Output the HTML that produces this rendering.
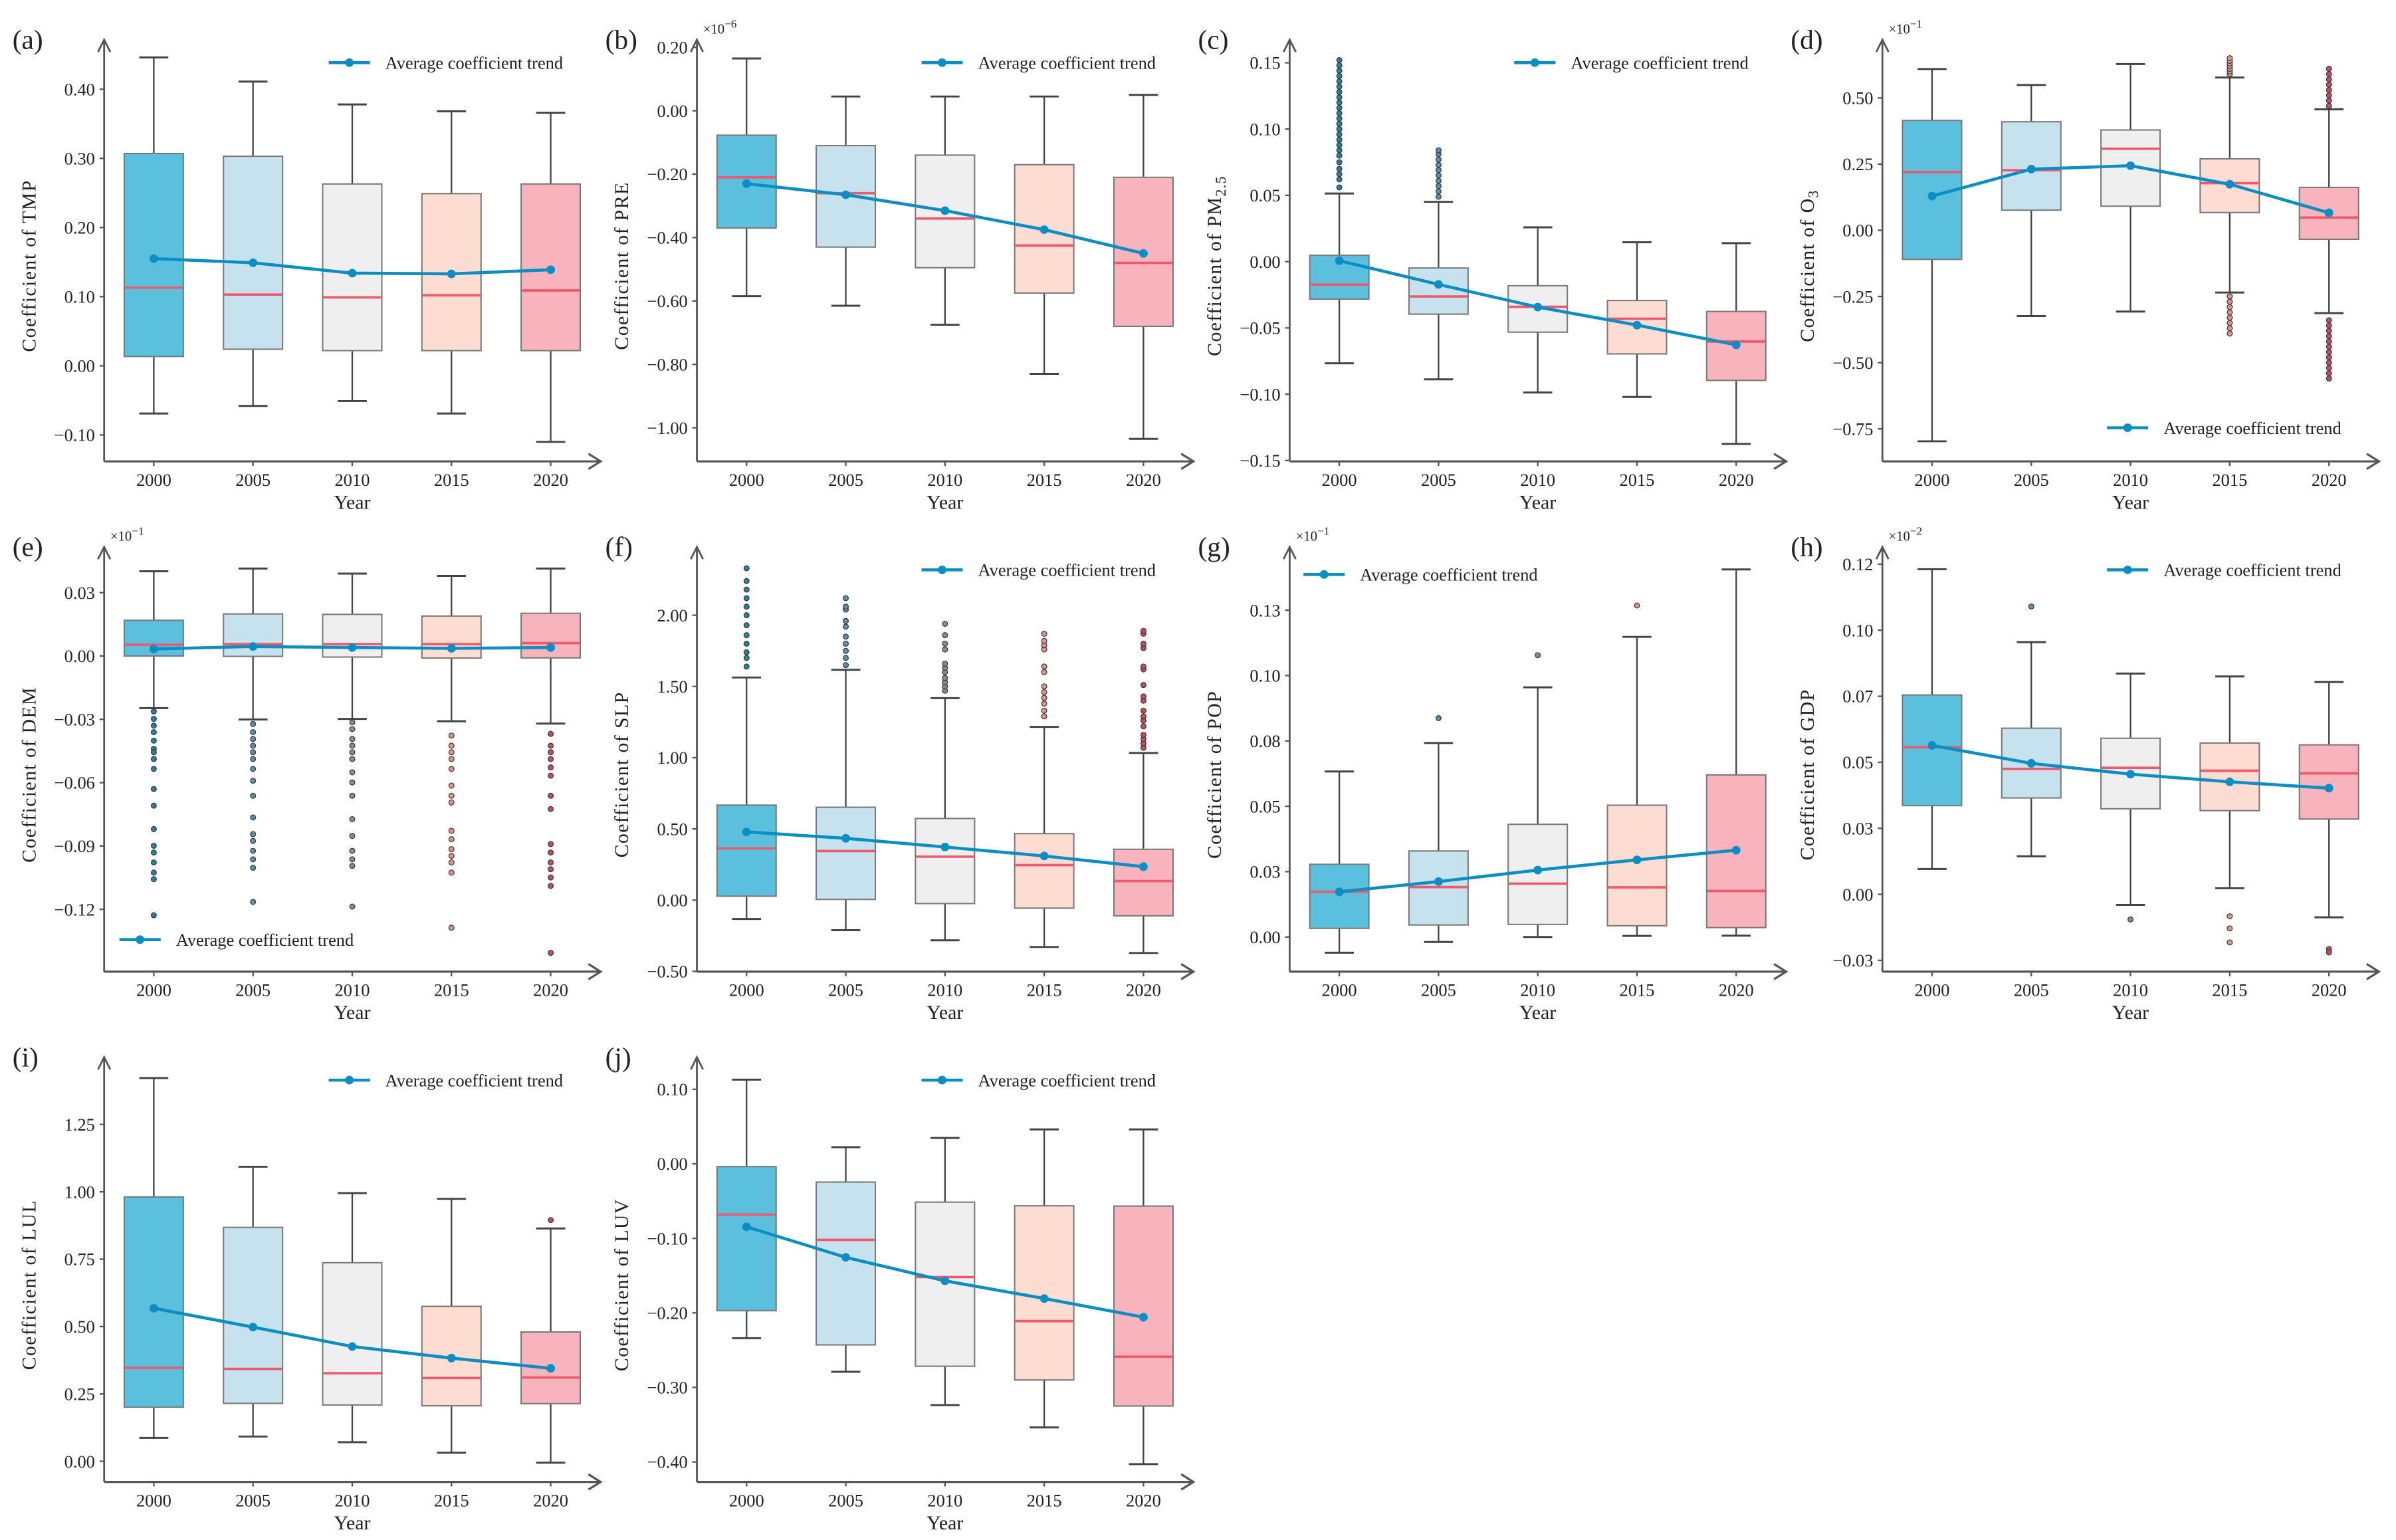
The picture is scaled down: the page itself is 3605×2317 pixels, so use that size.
<!DOCTYPE html>
<html><head><meta charset="utf-8">
<style>
html,body{margin:0;padding:0;background:#fff;}
svg{display:block;}
text{font-family:"Liberation Serif","DejaVu Serif",serif;fill:#222;}
</style></head>
<body>
<svg id="fig" xmlns="http://www.w3.org/2000/svg" width="3605" height="2317" viewBox="0 0 1568 1008">
<rect x="0" y="0" width="1568" height="1008" fill="#fff"/>
</svg>
<script>
// ---------- shared data ----------
const years = ["2000","2005","2010","2015","2020"];

// (a) TMP
const tmpLow  = [-0.069,-0.058,-0.051,-0.069,-0.110];
const tmpQ1   = [0.0135,0.024,0.022,0.022,0.022];
const tmpMed  = [0.113,0.103,0.099,0.102,0.109];
const tmpQ3   = [0.307,0.303,0.263,0.249,0.263];
const tmpHigh = [0.446,0.411,0.378,0.368,0.366];
const tmpMean = [0.155,0.149,0.134,0.133,0.139];
const tmpOut  = [[],[],[],[],[]];
const tmpTicks = [0.40,0.30,0.20,0.10,0.00,-0.10];
const tmpTickLabels = ["0.40","0.30","0.20","0.10","0.00","\u22120.10"];

// (b) PRE
const preLow  = [-0.585,-0.615,-0.675,-0.83,-1.035];
const preQ1   = [-0.37,-0.43,-0.495,-0.575,-0.68];
const preMed  = [-0.21,-0.26,-0.34,-0.425,-0.48];
const preQ3   = [-0.077,-0.11,-0.14,-0.17,-0.21];
const preHigh = [0.165,0.045,0.045,0.045,0.05];
const preMean = [-0.23,-0.265,-0.315,-0.375,-0.45];
const preOut  = [[],[],[],[],[]];
const preTicks = [0.20,0.00,-0.20,-0.40,-0.60,-0.80,-1.00];
const preTickLabels = ["0.20","0.00","\u22120.20","\u22120.40","\u22120.60","\u22120.80","\u22121.00"];

// (c) PM2.5
const pmLow  = [-0.0767,-0.0888,-0.0987,-0.1021,-0.1375];
const pmQ1   = [-0.0283,-0.0396,-0.0532,-0.0696,-0.0896];
const pmMed  = [-0.0174,-0.0263,-0.0341,-0.0431,-0.0603];
const pmQ3   = [0.0048,-0.0048,-0.0182,-0.0293,-0.0376];
const pmHigh = [0.0514,0.0451,0.0259,0.0146,0.0139];
const pmMean = [0.0007,-0.0172,-0.0343,-0.0479,-0.0628];
const pmOut  = [
 [0.056,0.062,0.066,0.07,0.075,0.08,0.084,0.088,0.092,0.096,0.1,0.104,0.108,0.112,0.116,0.12,0.124,0.128,0.132,0.136,0.14,0.144,0.148,0.152],
 [0.049,0.053,0.057,0.061,0.065,0.069,0.073,0.077,0.081,0.084],[],[],[]];
const pmTicks = [0.15,0.10,0.05,0.00,-0.05,-0.10,-0.15];
const pmTickLabels = ["0.15","0.10","0.05","0.00","\u22120.05","\u22120.10","\u22120.15"];

// (d) O3
const o3Low  = [-0.797,-0.324,-0.307,-0.235,-0.313];
const o3Q1   = [-0.11,0.076,0.091,0.067,-0.034];
const o3Med  = [0.22,0.227,0.308,0.178,0.048];
const o3Q3   = [0.415,0.41,0.379,0.27,0.162];
const o3High = [0.609,0.549,0.628,0.577,0.457];
const o3Mean = [0.129,0.231,0.244,0.174,0.066];
const o3Out  = [[],[],[],
 [0.59,0.60,0.61,0.62,0.63,0.64,0.65,-0.25,-0.27,-0.29,-0.31,-0.33,-0.35,-0.37,-0.39],
 [0.47,0.49,0.51,0.53,0.55,0.57,0.59,0.61,-0.34,-0.36,-0.38,-0.40,-0.42,-0.44,-0.46,-0.48,-0.50,-0.52,-0.54,-0.56]];
const o3Ticks = [0.50,0.25,0.00,-0.25,-0.50,-0.75];
const o3TickLabels = ["0.50","0.25","0.00","\u22120.25","\u22120.50","\u22120.75"];

// (e) DEM
const demLow  = [-0.0247,-0.0301,-0.0298,-0.0309,-0.032];
const demQ1   = [0.0,-0.0002,-0.0005,-0.001,-0.0009];
const demMed  = [0.0053,0.0056,0.0056,0.0056,0.0061];
const demQ3   = [0.0169,0.0199,0.0197,0.0189,0.0202];
const demHigh = [0.0401,0.0414,0.039,0.0379,0.0414];
const demMean = [0.0033,0.0045,0.004,0.0036,0.004];
const demOut  = [
 [-0.0263,-0.0298,-0.033,-0.0361,-0.0401,-0.044,-0.0456,-0.0488,-0.0535,-0.063,-0.0709,-0.082,-0.0899,-0.0931,-0.0978,-0.1026,-0.1057,-0.1228],
 [-0.0322,-0.0361,-0.0393,-0.0425,-0.0456,-0.0488,-0.0535,-0.0591,-0.0662,-0.0765,-0.0844,-0.0876,-0.0923,-0.0963,-0.1003,-0.1165],
 [-0.0314,-0.0346,-0.0393,-0.0425,-0.0456,-0.0488,-0.0551,-0.0599,-0.0662,-0.0773,-0.0852,-0.0923,-0.0963,-0.0994,-0.1187],
 [-0.0377,-0.0425,-0.0456,-0.0488,-0.0535,-0.0614,-0.0662,-0.0694,-0.0828,-0.0868,-0.0915,-0.0947,-0.0978,-0.1026,-0.1287],
 [-0.0369,-0.0425,-0.0456,-0.0488,-0.0528,-0.0567,-0.0662,-0.0725,-0.0891,-0.0931,-0.0978,-0.101,-0.1049,-0.1089,-0.1406]];
const demTicks = [0.03,0.00,-0.03,-0.06,-0.09,-0.12];
const demTickLabels = ["0.03","0.00","\u22120.03","\u22120.06","\u22120.09","\u22120.12"];

// (f) SLP
const slpLow  = [-0.132,-0.211,-0.282,-0.329,-0.371];
const slpQ1   = [0.028,0.005,-0.024,-0.056,-0.11];
const slpMed  = [0.364,0.345,0.305,0.246,0.134];
const slpQ3   = [0.667,0.652,0.573,0.467,0.357];
const slpHigh = [1.563,1.617,1.418,1.216,1.033];
const slpMean = [0.479,0.434,0.373,0.31,0.235];
const slpOut  = [
 [1.64,1.70,1.74,1.80,1.86,1.93,2.00,2.06,2.12,2.18,2.24,2.33],
 [1.65,1.70,1.75,1.80,1.85,1.92,1.96,2.04,2.06,2.12],
 [1.47,1.50,1.53,1.56,1.60,1.63,1.66,1.76,1.80,1.86,1.94],
 [1.29,1.33,1.38,1.42,1.46,1.50,1.60,1.64,1.76,1.79,1.82,1.87],
 [1.07,1.10,1.13,1.16,1.22,1.26,1.29,1.33,1.40,1.43,1.51,1.62,1.64,1.77,1.80,1.87,1.89]];
const slpTicks = [2.00,1.50,1.00,0.50,0.00,-0.50];
const slpTickLabels = ["2.00","1.50","1.00","0.50","0.00","\u22120.50"];

// (g) POP
const popLow  = [-0.006,-0.0019,0.0,0.0004,0.0005];
const popQ1   = [0.0033,0.0046,0.0048,0.0043,0.0036];
const popMed  = [0.0173,0.0191,0.0204,0.019,0.0176];
const popQ3   = [0.0278,0.0329,0.0431,0.0504,0.062];
const popHigh = [0.0633,0.0742,0.0955,0.1148,0.1406];
const popMean = [0.0173,0.0212,0.0256,0.0295,0.0332];
const popOut  = [[],[0.0837],[0.1078],[0.1268],[]];
const popTicks = [0.125,0.10,0.075,0.05,0.025,0.0];
const popTickLabels = ["0.13","0.10","0.08","0.05","0.03","0.00"];

// (h) GDP
const gdpLow  = [0.0096,0.0144,-0.004,0.0023,-0.0087];
const gdpQ1   = [0.0336,0.0365,0.0324,0.0317,0.0285];
const gdpMed  = [0.0557,0.0475,0.0479,0.0468,0.0458];
const gdpQ3   = [0.0755,0.0629,0.0591,0.0573,0.0566];
const gdpHigh = [0.1231,0.0955,0.0836,0.0825,0.0804];
const gdpMean = [0.0564,0.0496,0.0455,0.0426,0.0402];
const gdpOut  = [[],[0.109],[-0.0095],[-0.0083,-0.0129,-0.0182],[-0.0207,-0.022]];
const gdpTicks = [0.125,0.10,0.075,0.05,0.025,0.0,-0.025];
const gdpTickLabels = ["0.12","0.10","0.07","0.05","0.03","0.00","\u22120.03"];

// (i) LUL
const lulLow  = [0.087,0.092,0.071,0.032,-0.005];
const lulQ1   = [0.201,0.215,0.209,0.206,0.214];
const lulMed  = [0.347,0.343,0.327,0.309,0.311];
const lulQ3   = [0.981,0.868,0.737,0.575,0.48];
const lulHigh = [1.422,1.093,0.995,0.974,0.864];
const lulMean = [0.568,0.498,0.426,0.383,0.345];
const lulOut  = [[],[],[],[],[0.895]];
const lulTicks = [1.25,1.00,0.75,0.50,0.25,0.00];
const lulTickLabels = ["1.25","1.00","0.75","0.50","0.25","0.00"];

// (j) LUV
const luvLow  = [-0.234,-0.279,-0.3237,-0.3537,-0.403];
const luvQ1   = [-0.197,-0.243,-0.2716,-0.29,-0.325];
const luvMed  = [-0.068,-0.102,-0.152,-0.211,-0.2588];
const luvQ3   = [-0.0037,-0.0245,-0.0514,-0.0563,-0.0567];
const luvHigh = [0.113,0.0223,0.0347,0.0462,0.0462];
const luvMean = [-0.0845,-0.1255,-0.157,-0.1807,-0.2058];
const luvOut  = [[],[],[],[],[]];
const luvTicks = [0.10,0.00,-0.10,-0.20,-0.30,-0.40];
const luvTickLabels = ["0.10","0.00","\u22120.10","\u22120.20","\u22120.30","\u22120.40"];

// ---------- layout (not data) ----------
const NS = "http://www.w3.org/2000/svg";
const svg = document.getElementById('fig');
const fills = ["#5bbfde","#c6e2ee","#efefef","#fddcd2","#f8b3bc"];
const outFill = ["#2e7f9c","#5a8fa6","#8a8a8a","#d9958a","#c0505e"];
function mk(tag, attrs, parent){
  const e = document.createElementNS(NS, tag);
  for (const k in attrs) e.setAttribute(k, attrs[k]);
  (parent||svg).appendChild(e);
  return e;
}

const panels = [
 {id:"a",name:"tmp",col:0,row:0,low:tmpLow,q1:tmpQ1,med:tmpMed,q3:tmpQ3,high:tmpHigh,mean:tmpMean,out:tmpOut,ticks:tmpTicks,labels:tmpTickLabels,ref:[0.40,58.4,-0.10,284.7],title:["TMP",""],leg:"tr",exp:""},
 {id:"b",name:"pre",col:1,row:0,low:preLow,q1:preQ1,med:preMed,q3:preQ3,high:preHigh,mean:preMean,out:preOut,ticks:preTicks,labels:preTickLabels,ref:[0.20,31,-1.00,280],title:["PRE",""],leg:"tr",exp:"-6"},
 {id:"c",name:"pm25",col:2,row:0,low:pmLow,q1:pmQ1,med:pmMed,q3:pmQ3,high:pmHigh,mean:pmMean,out:pmOut,ticks:pmTicks,labels:pmTickLabels,ref:[0.15,41.1,-0.15,301.4],title:["PM","2.5"],leg:"tr",exp:""},
 {id:"d",name:"o3",col:3,row:0,low:o3Low,q1:o3Q1,med:o3Med,q3:o3Q3,high:o3High,mean:o3Mean,out:o3Out,ticks:o3Ticks,labels:o3TickLabels,ref:[0.50,64.1,-0.75,280.7],title:["O","3"],leg:"br",exp:"-1"},
 {id:"e",name:"dem",col:0,row:1,low:demLow,q1:demQ1,med:demMed,q3:demQ3,high:demHigh,mean:demMean,out:demOut,ticks:demTicks,labels:demTickLabels,ref:[0.03,387.9,-0.12,595.2],title:["DEM",""],leg:"bl",exp:"-1"},
 {id:"f",name:"slp",col:1,row:1,low:slpLow,q1:slpQ1,med:slpMed,q3:slpQ3,high:slpHigh,mean:slpMean,out:slpOut,ticks:slpTicks,labels:slpTickLabels,ref:[2.00,402.7,-0.50,635.8],title:["SLP",""],leg:"tr",exp:""},
 {id:"g",name:"pop",col:2,row:1,low:popLow,q1:popQ1,med:popMed,q3:popQ3,high:popHigh,mean:popMean,out:popOut,ticks:popTicks,labels:popTickLabels,ref:[0.125,399.4,0.0,613.3],title:["POP",""],leg:"tl",exp:"-1"},
 {id:"h",name:"gdp",col:3,row:1,low:gdpLow,q1:gdpQ1,med:gdpMed,q3:gdpQ3,high:gdpHigh,mean:gdpMean,out:gdpOut,ticks:gdpTicks,labels:gdpTickLabels,ref:[0.125,369.3,-0.025,628.6],title:["GDP",""],leg:"tr",exp:"-2"},
 {id:"i",name:"lul",col:0,row:2,low:lulLow,q1:lulQ1,med:lulMed,q3:lulQ3,high:lulHigh,mean:lulMean,out:lulOut,ticks:lulTicks,labels:lulTickLabels,ref:[1.25,736,0.00,956.5],title:["LUL",""],leg:"tr",exp:""},
 {id:"j",name:"luv",col:1,row:2,low:luvLow,q1:luvQ1,med:luvMed,q3:luvQ3,high:luvHigh,mean:luvMean,out:luvOut,ticks:luvTicks,labels:luvTickLabels,ref:[0.10,713,-0.40,956.9],title:["LUV",""],leg:"tr",exp:""}
];
const rowTop = [26, 358, 692];
const rowAxis = [302, 636, 970];

panels.forEach(p => {
  const ax = 68 + p.col*388;
  const top = rowTop[p.row], base = rowAxis[p.row];
  const g = mk('g', {});
  
  
  const [v0,y0,v1,y1] = p.ref;
  const ys = v => y0 + (v - v0)*(y1 - y0)/(v1 - v0);
  const xs = i => ax + 32.5 + i*64.95;
  const bw = 38.7, cw = 19;

  // panel label
  const pl = mk('text', {x: ax-60, y: top+6, 'font-size': 18}, g);
  pl.textContent = '(' + p.id + ')';
  
  

  // axes
  const yAx = mk('path', {d:`M${ax},${base} L${ax},${top} M${ax-4},${top+8} L${ax},${top} L${ax+4},${top+8}`, stroke:'#555', 'stroke-width':1.2, fill:'none'}, g);
  
  
  const xEnd = ax + 325;
  const xAx = mk('path', {d:`M${ax},${base} L${xEnd},${base} M${xEnd-8},${base-5} L${xEnd},${base} L${xEnd-8},${base+5}`, stroke:'#555', 'stroke-width':1.4, fill:'none'}, g);
  
  

  // y ticks
  p.ticks.forEach((t, k) => {
    const y = ys(t);
    mk('line', {x1:ax-3, x2:ax, y1:y, y2:y, stroke:'#555', 'stroke-width':1}, g);
    const tl = mk('text', {x: ax-6, y: y+4, 'font-size': 11.5, 'text-anchor':'end'}, g);
    tl.textContent = p.labels[k];
    
    
  });
  // exponent
  if (p.exp) {
    const ex = mk('text', {x: ax+4, y: top-4, 'font-size': 9}, g);
    
    
    ex.textContent = '\u00d710';
    const sp = mk('tspan', {dy: -4, 'font-size': 7.5}, ex);
    sp.textContent = '\u2212' + p.exp.replace('-','');
  }
  // y title
  const tx = ax - 45, ty = (top + base)/2 + 10;
  const yt = mk('text', {x: tx, y: ty, 'font-size': 13, 'text-anchor':'middle', transform:`rotate(-90 ${tx} ${ty})`, 'letter-spacing':'0.6'}, g);
  
  
  yt.textContent = 'Coefficient  of  ' + p.title[0];
  if (p.title[1]) {
    const sb = mk('tspan', {dy: 3, 'font-size': 9.5}, yt);
    sb.textContent = p.title[1];
  }
  // x ticks & labels
  years.forEach((yr, i) => {
    const x = xs(i);
    mk('line', {x1:x, x2:x, y1:base, y2:base+3, stroke:'#555', 'stroke-width':1}, g);
    const xl = mk('text', {x: x, y: base+16, 'font-size': 11.5, 'text-anchor':'middle'}, g);
    xl.textContent = yr;
    
    
  });
  const xt = mk('text', {x: xs(2), y: base+31, 'font-size': 13, 'text-anchor':'middle'}, g);
  xt.textContent = 'Year';
  
  

  // boxes
  years.forEach((yr, i) => {
    const x = xs(i);
    const bg = mk('g', {}, g);
    
    
    mk('line', {x1:x, x2:x, y1:ys(p.high[i]), y2:ys(p.q3[i]), stroke:'#444', 'stroke-width':1}, bg);
    mk('line', {x1:x, x2:x, y1:ys(p.q1[i]), y2:ys(p.low[i]), stroke:'#444', 'stroke-width':1}, bg);
    mk('line', {x1:x-cw/2, x2:x+cw/2, y1:ys(p.high[i]), y2:ys(p.high[i]), stroke:'#444', 'stroke-width':1.3}, bg);
    mk('line', {x1:x-cw/2, x2:x+cw/2, y1:ys(p.low[i]), y2:ys(p.low[i]), stroke:'#444', 'stroke-width':1.3}, bg);
    const yq3 = ys(p.q3[i]), yq1 = ys(p.q1[i]);
    mk('rect', {x:x-bw/2, y:Math.min(yq3,yq1), width:bw, height:Math.abs(yq1-yq3), fill:fills[i], stroke:'#7a7a7a', 'stroke-width':0.9}, bg);
    mk('line', {x1:x-bw/2+0.5, x2:x+bw/2-0.5, y1:ys(p.med[i]), y2:ys(p.med[i]), stroke:'#f0596b', 'stroke-width':1.6}, bg);
    p.out[i].forEach(v => {
      const c = mk('circle', {cx:x, cy:ys(v), r:1.7, fill:outFill[i], stroke:'#333', 'stroke-width':0.5}, bg);
      
      
    });
  });

  // trend line
  const pts = p.mean.map((v, i) => xs(i) + ',' + ys(v)).join(' ');
  const tr = mk('polyline', {points: pts, fill:'none', stroke:'#0b8ec4', 'stroke-width':2}, g);
  
  
  p.mean.forEach((v, i) => {
    const c = mk('circle', {cx: xs(i), cy: ys(v), r: 2.8, fill:'#0b8ec4'}, g);
    
    
  });

  // legend
  let lx, ly;
  if (p.leg === 'tr') { lx = ax + 147; ly = top + 15; }
  else if (p.leg === 'br') { lx = ax + 147; ly = base - 22; }
  else if (p.leg === 'bl') { lx = ax + 10; ly = base - 21; }
  else { lx = ax + 9; ly = top + 18; }
  const lg = mk('g', {}, g);
  
  
  mk('line', {x1:lx, x2:lx+27, y1:ly, y2:ly, stroke:'#0b8ec4', 'stroke-width':2}, lg);
  mk('circle', {cx:lx+13.5, cy:ly, r:2.8, fill:'#0b8ec4'}, lg);
  const lt = mk('text', {x: lx+37, y: ly+4, 'font-size': 11.5}, lg);
  lt.textContent = 'Average coefficient trend';
  
  
});
</script>
</body></html>
